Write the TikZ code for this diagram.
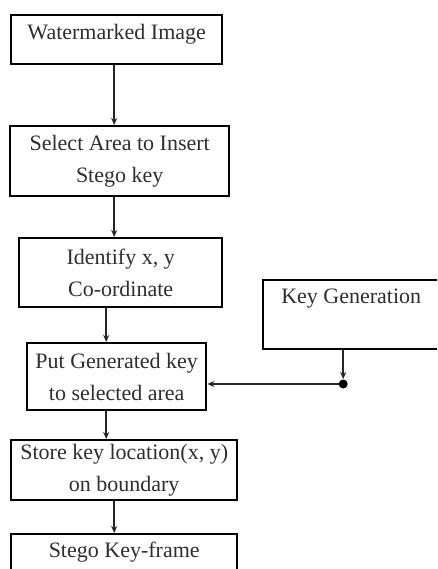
\documentclass[tikz,border=0pt]{standalone}
\usepackage{fontspec}
\setmainfont{Liberation Serif}
\usetikzlibrary{arrows.meta}
\newcommand{\lift}[2]{\raisebox{#1}[\height][\depth]{#2}}
\begin{document}
\begin{tikzpicture}[x=1pt,y=-1pt,
  box/.style={draw=black, line width=2.4pt, anchor=north west, inner sep=0pt,
    align=center, text=black!82, font=\fontsize{22}{32}\selectfont},
  flow/.style={draw=black!85, line width=1.7pt, -{Stealth[length=7pt,width=6pt]}}]
\useasboundingbox (0,0) rectangle (437,569);
\begin{scope}
\clip (0,0) rectangle (437,569);
% process chain
\node[box, minimum width=211pt, minimum height=49pt] (wm) at (10,14)
  {\lift{5pt}{Watermarked Image}};
\node[box, minimum width=219pt, minimum height=70pt] (sel) at (9,125)
  {Select Area to Insert\\Stego key};
\node[box, minimum width=203pt, minimum height=69pt] (xy) at (18,237)
  {Identify x, y\\Co-ordinate};
\node[box, minimum width=179pt, minimum height=67pt] (put) at (26,342)
  {Put Generated key\\to selected area};
\node[box, minimum width=226pt, minimum height=60pt] (store) at (10,439)
  {Store key location(x, y)\\on boundary};
\node[box, minimum width=226pt, minimum height=45pt] (frame) at (10,533)
  {\lift{5pt}{Stego Key-frame}};
% key source
\node[box, minimum width=190pt, minimum height=69pt] (gen) at (262,279)
  {\lift{16pt}{Key Generation}\hspace*{14pt}};
\end{scope}
% connectors
\draw[flow] ([xshift=-2.5pt]wm.south) -- ([xshift=-2.5pt]wm.south |- sel.north);
\draw[flow] ([xshift=-5.5pt]sel.south) -- ([xshift=-5.5pt]sel.south |- xy.north);
\draw[flow] ([xshift=-14.5pt]xy.south) -- ([xshift=-14.5pt]xy.south |- put.north);
\draw[flow] ([xshift=-10.5pt]put.south) -- ([xshift=-10.5pt]put.south |- store.north);
\draw[flow] ([xshift=-10pt]store.south) -- ([xshift=-10pt]store.south |- frame.north);
\coordinate (jn) at ([xshift=-15pt]gen.south |- 0,384);
\draw[flow] ([xshift=-15pt]gen.south) -- ([yshift=5pt]jn);
\draw[flow] (jn) -- (jn -| put.east);
\fill[black] (jn) circle (4.5pt);
\end{tikzpicture}
\end{document}
